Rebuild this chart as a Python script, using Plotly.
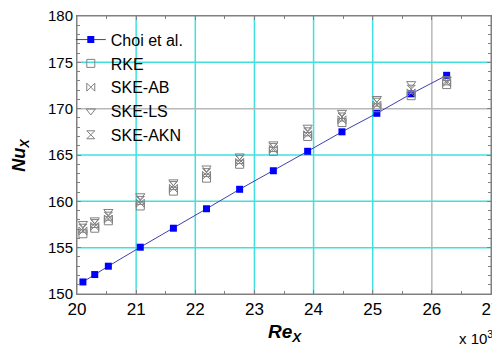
import plotly.graph_objects as go

# Re_x values (x 10^3)
re_x = [20.1, 20.3, 20.53, 21.07, 21.63, 22.19, 22.75, 23.32, 23.9, 24.48, 25.07, 25.65, 26.25]
nu_choi = [151.3, 152.1, 153.0, 155.05, 157.1, 159.2, 161.3, 163.3, 165.4, 167.5, 169.5, 171.6, 173.6]
nu_rke = [156.5, 157.1, 157.9, 159.5, 161.1, 162.5, 164.0, 165.4, 167.0, 168.5, 170.1, 171.4, 172.6]
nu_ske_ab = [156.8, 157.3, 158.1, 159.8, 161.4, 162.8, 164.2, 165.6, 167.2, 168.8, 170.4, 171.7, 172.8]
nu_ske_ls = [157.6, 158.0, 158.9, 160.6, 162.1, 163.6, 164.9, 166.2, 168.0, 169.6, 171.1, 172.7, 173.2]
nu_ske_akn = [157.1, 157.6, 158.4, 160.1, 161.7, 163.1, 164.5, 165.8, 167.5, 169.1, 170.7, 172.1, 173.0]

x_ticks = [20, 21, 22, 23, 24, 25, 26, 27]
y_ticks = [150, 155, 160, 165, 170, 175, 180]
x_gray_grid = [26]
y_gray_grid = [170]

gray = "#808080"
cyan = "#40E0E0"
fig = go.Figure()
fig.add_trace(go.Scatter(x=re_x, y=nu_choi, name="Choi et al.", mode="lines+markers",
                         line=dict(color="#4040B0", width=1),
                         marker=dict(symbol="square", size=7, color="#0000FF")))
fig.add_trace(go.Scatter(x=re_x, y=nu_rke, name="RKE", mode="markers",
                         marker=dict(symbol="square-open", size=8, color=gray, line=dict(width=1))))
fig.add_trace(go.Scatter(x=re_x, y=nu_ske_ab, name="SKE-AB", mode="markers",
                         marker=dict(symbol="bowtie-open", size=8, color=gray, line=dict(width=1))))
fig.add_trace(go.Scatter(x=re_x, y=nu_ske_ls, name="SKE-LS", mode="markers",
                         marker=dict(symbol="triangle-down-open", size=8, color=gray, line=dict(width=1))))
fig.add_trace(go.Scatter(x=re_x, y=nu_ske_akn, name="SKE-AKN", mode="markers",
                         marker=dict(symbol="hourglass-open", size=8, color=gray, line=dict(width=1))))

# grid lines drawn as shapes (cyan, with two gray ones as in the reference)
for v in x_ticks[1:-1]:
    col = "#B8B8B8" if v in x_gray_grid else cyan
    fig.add_shape(type="line", xref="x", yref="paper", x0=v, x1=v, y0=0, y1=1,
                  line=dict(color=col, width=1.5), layer="below")
for v in y_ticks[1:-1]:
    col = "#B8B8B8" if v in y_gray_grid else cyan
    fig.add_shape(type="line", xref="paper", yref="y", x0=0, x1=1, y0=v, y1=v,
                  line=dict(color=col, width=1.5), layer="below")
# plot frame
fig.add_shape(type="rect", xref="paper", yref="paper", x0=0, x1=1, y0=0, y1=1,
              line=dict(color=gray, width=1), layer="above")

font = "Liberation Sans, Arial, sans-serif"
# page body has an 8px margin, so the figure is sized to fit the 500x347 window
fig.update_layout(
    width=492, height=339,
    margin=dict(l=69, r=9, t=8, b=53, autoexpand=False),
    paper_bgcolor="white", plot_bgcolor="white",
    font=dict(family=font, size=15, color="black"),
    showlegend=True,
    legend=dict(x=-0.015, y=0.976, xanchor="left", yanchor="top",
                bgcolor="rgba(0,0,0,0)", font=dict(size=16), tracegroupgap=0,
                itemwidth=30),
    xaxis=dict(range=[20, 27], tickvals=x_ticks, ticktext=[str(v) for v in x_ticks],
               showgrid=False, automargin=False, ticklabeloverflow="allow",
               showline=True, linecolor=gray, linewidth=1, mirror="ticks",
               ticks="inside", ticklen=4, tickcolor=gray,
               minor=dict(dtick=0.5, ticks="inside", ticklen=3, tickcolor=gray, showgrid=False),
               zeroline=False, tickfont=dict(size=17)),
    yaxis=dict(range=[150, 180], tickvals=y_ticks,
               showgrid=False, automargin=False, ticklabeloverflow="allow",
               showline=True, linecolor=gray, linewidth=1, mirror="ticks",
               ticks="inside", ticklen=4, tickcolor=gray,
               minor=dict(dtick=1, ticks="inside", ticklen=3, tickcolor=gray, showgrid=False),
               zeroline=False, tickfont=dict(size=15)),
)
# axis titles as annotations for exact placement
fig.add_annotation(x=0.502, y=-0.14, xref="paper", yref="paper", xanchor="center", yanchor="middle",
                   text="<b><i>Re</i></b><sub><b><i>X</i></b></sub>", showarrow=False, font=dict(size=19))
fig.add_annotation(x=-0.138, y=0.5, xref="paper", yref="paper", xanchor="center", yanchor="middle",
                   textangle=-90,
                   text="<b><i>Nu</i></b><sub><b><i>X</i></b></sub>", showarrow=False, font=dict(size=18))
fig.add_annotation(x=1.01, y=-0.155, xref="paper", yref="paper", xanchor="right", yanchor="middle",
                   text="x 10<sup>3</sup>", showarrow=False, font=dict(size=15))

fig.write_html("out.html")
